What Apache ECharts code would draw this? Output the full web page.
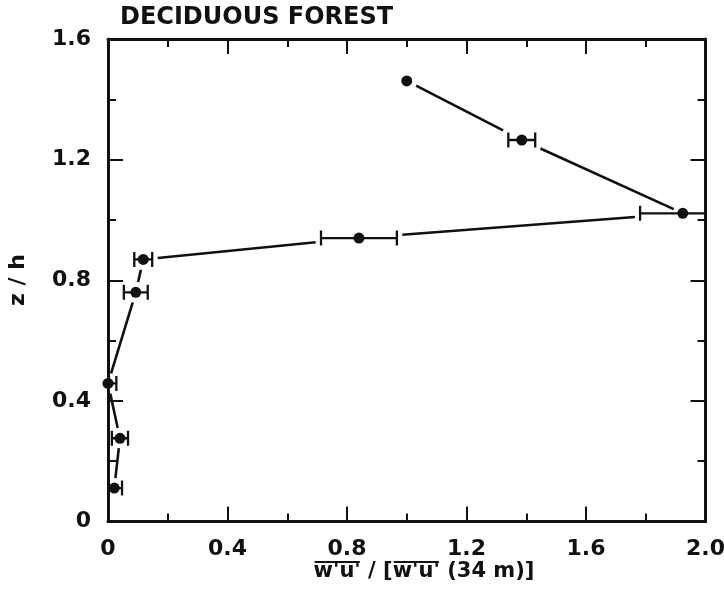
<!DOCTYPE html>
<html>
<head>
<meta charset="utf-8">
<script src="https://cdn.jsdelivr.net/npm/echarts@6/dist/echarts.min.js"></script>
<style>
  html, body { margin: 0; padding: 0; background: #fff; }
  #chart { width: 724px; height: 608px; }
</style>
</head>
<body>
<div id="chart"></div>
<script>
// Tick labels
const xTickLabels = ['0', '0.4', '0.8', '1.2', '1.6', '2.0'];
const zTickLabels = ['0', '0.4', '0.8', '1.2', '1.6'];

// Normalized momentum flux profile, listed from the top level downward
const fluxRatio   = [1.000, 1.385, 1.924, 0.840, 0.118, 0.093, 0.000, 0.040, 0.021];
const heightRatio = [1.461, 1.265, 1.022, 0.940, 0.869, 0.760, 0.458, 0.276, 0.111];
const fluxError   = [0.000, 0.045, 0.143, 0.127, 0.030, 0.040, 0.028, 0.027, 0.026];

const X_MIN = 0, X_MAX = 2.0, Z_MIN = 0, Z_MAX = 1.6;
const INK = '#111';
const FONT = '"DejaVu Sans", "Liberation Sans", sans-serif';
const CAP = 7.5;        // half height of error bar caps (px)
const GAP_R = 10;       // clearance kept around each marker (px)

const points = fluxRatio.map((x, i) => [x, heightRatio[i], fluxError[i]]);
const segments = [];
for (let i = 0; i < points.length - 1; i++) {
  segments.push([points[i][0], points[i][1], points[i + 1][0], points[i + 1][1],
                 points[i][2], points[i + 1][2]]);
}

function insideMark(px, py, c, ePx) {
  const dx = px - c[0], dy = py - c[1];
  if (dx * dx + dy * dy <= GAP_R * GAP_R) return true;
  if (ePx > 0) {
    if (Math.abs(dx) <= ePx + 5 && Math.abs(dy) <= 4) return true;
    if (Math.abs(Math.abs(dx) - ePx) <= 5 && Math.abs(dy) <= CAP + 2) return true;
  }
  return false;
}

// distance along the segment from point c until it leaves the marker/error bar area
function clearance(c, ux, uy, len, ePx) {
  let s = 0;
  while (s < len && insideMark(c[0] + ux * s, c[1] + uy * s, c, ePx)) s += 0.5;
  return s;
}

function renderConnector(params, api) {
  const a = api.coord([api.value(0), api.value(1)]);
  const b = api.coord([api.value(2), api.value(3)]);
  const ea = api.size([api.value(4), 0])[0];
  const eb = api.size([api.value(5), 0])[0];
  const dx = b[0] - a[0], dy = b[1] - a[1];
  const len = Math.hypot(dx, dy);
  const ux = dx / len, uy = dy / len;
  const s0 = clearance(a, ux, uy, len, ea);
  const s1 = clearance(b, -ux, -uy, len, eb);
  if (s0 + s1 >= len) return null;
  return {
    type: 'line',
    shape: { x1: a[0] + ux * s0, y1: a[1] + uy * s0, x2: b[0] - ux * s1, y2: b[1] - uy * s1 },
    style: { stroke: INK, lineWidth: 2.6, lineCap: 'butt' }
  };
}

function renderErrorBar(params, api) {
  const x = api.value(0), z = api.value(1), e = api.value(2);
  if (!(e > 0)) return null;
  const lo = x - e, hi = x + e;
  const l = api.coord([Math.max(lo, X_MIN), z]);
  const r = api.coord([Math.min(hi, X_MAX), z]);
  const style = { stroke: INK, lineWidth: 2.3, fill: null };
  const children = [
    { type: 'line', shape: { x1: l[0], y1: l[1], x2: r[0], y2: r[1] }, style }
  ];
  // caps only where the bar ends inside the frame
  if (lo >= X_MIN) children.push({ type: 'line', shape: { x1: l[0], y1: l[1] - CAP, x2: l[0], y2: l[1] + CAP }, style });
  if (hi <= X_MAX) children.push({ type: 'line', shape: { x1: r[0], y1: r[1] - CAP, x2: r[0], y2: r[1] + CAP }, style });
  return { type: 'group', children };
}

// x-axis title with overlined covariance terms
function buildXTitle(cx, cy) {
  const font = 'bold 21px ' + FONT;
  const ctx = document.createElement('canvas').getContext('2d');
  ctx.font = font;
  const pieces = [
    { t: "w'u'", over: true },
    { t: ' / [', over: false },
    { t: "w'u'", over: true },
    { t: ' (34 m)]', over: false }
  ];
  const widths = pieces.map(p => ctx.measureText(p.t).width);
  const total = widths.reduce((s, w) => s + w, 0);
  let x = cx - total / 2;
  const children = [];
  pieces.forEach((p, i) => {
    children.push({
      type: 'text', x: x, y: cy,
      style: { text: p.t, fill: INK, font: font, textAlign: 'left', textVerticalAlign: 'middle' }
    });
    if (p.over) {
      children.push({
        type: 'line',
        shape: { x1: x + 1, y1: cy - 10, x2: x + widths[i] - 1, y2: cy - 10 },
        style: { stroke: INK, lineWidth: 2 }
      });
    }
    x += widths[i];
  });
  return { type: 'group', children };
}

const tickCommon = (len) => ({ show: true, inside: true, length: len, lineStyle: { color: INK, width: 2 } });
const minorCommon = { show: true, splitNumber: 2, length: 8, lineStyle: { color: INK, width: 2 } };
const lineCommon = { show: true, onZero: false, lineStyle: { color: INK, width: 3 } };

const xBase = { type: 'value', min: X_MIN, max: X_MAX, interval: 0.4, splitLine: { show: false },
  axisLine: lineCommon, axisTick: tickCommon(15), minorTick: minorCommon };
const yBase = { type: 'value', min: Z_MIN, max: Z_MAX, interval: 0.4, splitLine: { show: false },
  axisLine: lineCommon, axisTick: tickCommon(15), minorTick: minorCommon };

const labelStyle = { show: true, margin: 17, color: INK, fontSize: 22, fontWeight: 'bold', fontFamily: FONT };

const chart = echarts.init(document.getElementById('chart'), null, { renderer: 'canvas' });
chart.setOption({
  backgroundColor: '#fff',
  animation: false,
  grid: { left: 108, right: 18.5, top: 39, bottom: 86.5, containLabel: false, outerBoundsMode: 'none' },
  xAxis: [
    Object.assign({}, xBase, {
      position: 'bottom',
      axisLabel: Object.assign({}, labelStyle, { formatter: (v, i) => xTickLabels[i] })
    }),
    Object.assign({}, xBase, { position: 'top', axisLabel: { show: false } })
  ],
  yAxis: [
    Object.assign({}, yBase, {
      position: 'left',
      axisLabel: Object.assign({}, labelStyle, { formatter: (v, i) => zTickLabels[i] })
    }),
    Object.assign({}, yBase, { position: 'right', axisLabel: { show: false } })
  ],
  graphic: [
    {
      type: 'text', left: 120, top: 6,
      style: { text: 'DECIDUOUS FOREST', fill: INK, font: 'bold 24px ' + FONT }
    },
    {
      type: 'text', x: 18, y: 280, rotation: Math.PI / 2,
      style: { text: 'z / h', fill: INK, font: 'bold 22px ' + FONT, textAlign: 'center', textVerticalAlign: 'middle' }
    },
    buildXTitle(424, 572)
  ],
  series: [
    {
      type: 'custom', name: 'profile', xAxisIndex: 0, yAxisIndex: 0,
      renderItem: renderConnector, data: segments, clip: true, silent: true
    },
    {
      type: 'custom', name: 'error', xAxisIndex: 0, yAxisIndex: 0,
      renderItem: renderErrorBar, data: points, clip: true, silent: true
    },
    {
      type: 'scatter', name: 'flux', xAxisIndex: 0, yAxisIndex: 0,
      symbol: 'circle', symbolSize: 11,
      itemStyle: { color: INK, opacity: 1 },
      data: points.map(p => [p[0], p[1]]), silent: true
    }
  ]
});
</script>
</body>
</html>
